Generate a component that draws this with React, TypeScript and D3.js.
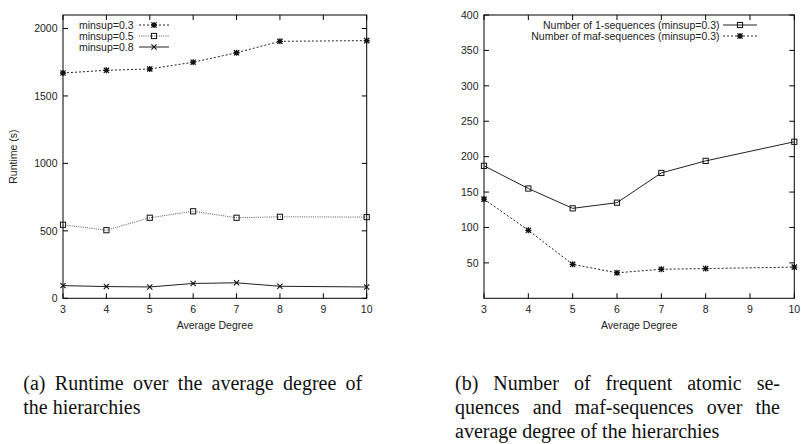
import React, { useLayoutEffect, useRef } from "react";
import * as d3 from "d3";

// Average degree of the hierarchies (x values shared by all series)
const degrees = [3, 4, 5, 6, 7, 8, 10];
const xTicks = [3, 4, 5, 6, 7, 8, 9, 10];

// (a) Runtime in seconds
const runtime03 = [1670, 1690, 1700, 1750, 1820, 1905, 1910];
const runtime05 = [545, 505, 597, 645, 597, 604, 602];
const runtime08 = [94, 87, 84, 110, 115, 89, 84];
const runtimeTicks = [0, 500, 1000, 1500, 2000];

// (b) Number of frequent sequences
const oneSeq = [187, 155, 127, 135, 177, 194, 221];
const mafSeq = [140, 96, 48, 36, 41, 42, 44];
const countTicks = [50, 100, 150, 200, 250, 300, 350, 400];

const SANS = "'Liberation Sans', Arial, Helvetica, sans-serif";
const SERIF = "'Liberation Serif', 'Times New Roman', serif";
const FS = 10.5;
const TICK = 5;

type Marker = "star" | "box" | "cross";

function MarkerShape({ kind, x, y, color }: { kind: Marker; x: number; y: number; color: string }) {
  const s = 2.6;
  if (kind === "box") {
    return <rect x={x - s} y={y - s} width={2 * s} height={2 * s} fill="none" stroke={color} strokeWidth={1} />;
  }
  if (kind === "cross") {
    return (
      <path d={`M${x - s},${y - s}L${x + s},${y + s}M${x - s},${y + s}L${x + s},${y - s}`} stroke={color} strokeWidth={1.1} />
    );
  }
  return (
    <path
      d={`M${x - s},${y - s}L${x + s},${y + s}M${x - s},${y + s}L${x + s},${y - s}M${x - s - 0.4},${y}L${x + s + 0.4},${y}M${x},${y - s - 0.4}L${x},${y + s + 0.4}`}
      stroke={color}
      strokeWidth={1.3}
    />
  );
}

type Series = {
  label: string;
  values: number[];
  marker: Marker;
  dash?: string;
  color: string;
};

type PanelProps = {
  left: number;
  right: number;
  top: number;
  bottom: number;
  yMax: number;
  yTicks: number[];
  series: Series[];
  yLabel?: string;
  legendRight: number;
  legendSample: [number, number];
  legendTop: number;
  legendStep: number;
};

function Panel(p: PanelProps) {
  const x = d3.scaleLinear().domain([3, 10]).range([p.left, p.right]);
  const y = d3.scaleLinear().domain([0, p.yMax]).range([p.bottom, p.top]);
  const line = d3
    .line<number>()
    .x((_, i) => x(degrees[i]))
    .y((v) => y(v));
  const midX = (p.left + p.right) / 2;
  const midY = (p.top + p.bottom) / 2;
  const symX = (p.legendSample[0] + p.legendSample[1]) / 2;

  return (
    <g>
      {/* plot frame */}
      <rect x={p.left} y={p.top} width={p.right - p.left} height={p.bottom - p.top} fill="none" stroke="#000" strokeWidth={1} />

      {/* x ticks, mirrored on top */}
      {xTicks.map((t) => (
        <g key={`x${t}`}>
          <line x1={x(t)} x2={x(t)} y1={p.bottom} y2={p.bottom - TICK} stroke="#000" />
          <line x1={x(t)} x2={x(t)} y1={p.top} y2={p.top + TICK} stroke="#000" />
          <text x={x(t)} y={313} fontSize={FS} fontFamily={SANS} textAnchor="middle" fill="#222">
            {t}
          </text>
        </g>
      ))}

      {/* y ticks, mirrored on right */}
      {p.yTicks.map((t) => (
        <g key={`y${t}`}>
          <line x1={p.left} x2={p.left + TICK} y1={y(t)} y2={y(t)} stroke="#000" />
          <line x1={p.right} x2={p.right - TICK} y1={y(t)} y2={y(t)} stroke="#000" />
          <text x={p.left - 5.5} y={y(t) + 3.8} fontSize={FS} fontFamily={SANS} textAnchor="end" fill="#222">
            {t}
          </text>
        </g>
      ))}

      <text x={midX} y={328.8} fontSize={FS} fontFamily={SANS} textAnchor="middle" fill="#222">
        Average Degree
      </text>
      {p.yLabel && (
        <text
          transform={`translate(17.2,${midY}) rotate(-90)`}
          fontSize={FS}
          fontFamily={SANS}
          textAnchor="middle"
          fill="#222"
        >
          {p.yLabel}
        </text>
      )}

      {/* series */}
      {p.series.map((s) => (
        <g key={s.label}>
          <path d={line(s.values) || ""} fill="none" stroke={s.color} strokeWidth={1} strokeDasharray={s.dash} />
          {s.values.map((v, i) => (
            <MarkerShape key={i} kind={s.marker} x={x(degrees[i])} y={y(v)} color="#111" />
          ))}
        </g>
      ))}

      {/* key */}
      {p.series.map((s, i) => {
        const ly = p.legendTop + i * p.legendStep;
        return (
          <g key={`k${s.label}`}>
            <text x={p.legendRight} y={ly + 3.8} fontSize={FS} fontFamily={SANS} textAnchor="end" fill="#222">
              {s.label}
            </text>
            <line
              x1={p.legendSample[0]}
              x2={p.legendSample[1]}
              y1={ly}
              y2={ly}
              stroke={s.color}
              strokeWidth={1}
              strokeDasharray={s.dash}
            />
            <MarkerShape kind={s.marker} x={symX} y={ly} color="#111" />
          </g>
        );
      })}
    </g>
  );
}

// A caption line stretched to a given width by widening the gaps between words.
function JustifiedLine({ x, y, width, text }: { x: number; y: number; width?: number; text: string }) {
  const ref = useRef<SVGTextElement>(null);
  useLayoutEffect(() => {
    const el = ref.current;
    if (!el || !width) return;
    el.setAttribute("word-spacing", "0");
    const natural = el.getComputedTextLength();
    const gaps = (text.match(/ /g) || []).length;
    if (gaps > 0) el.setAttribute("word-spacing", String((width - natural) / gaps));
  }, [width, text]);
  return (
    <text ref={ref} x={x} y={y} fontSize={20} fontFamily={SERIF} fill="#111">
      {text}
    </text>
  );
}

export default function App() {
  return (
    <svg
      width={801}
      height={444}
      viewBox="0 0 801 444"
      style={{ position: "absolute", left: 0, top: 0, background: "#fff" }}
    >
      <rect width={801} height={444} fill="#fff" />
      <Panel
        left={63}
        right={366.7}
        top={15}
        bottom={298.3}
        yMax={2100}
        yTicks={runtimeTicks}
        yLabel="Runtime (s)"
        legendRight={133.5}
        legendSample={[139, 169]}
        legendTop={25}
        legendStep={11}
        series={[
          { label: "minsup=0.3", values: runtime03, marker: "star", dash: "2,2", color: "#222" },
          { label: "minsup=0.5", values: runtime05, marker: "box", dash: "1,1.2", color: "#555" },
          { label: "minsup=0.8", values: runtime08, marker: "cross", color: "#222" },
        ]}
      />
      <Panel
        left={484}
        right={794.3}
        top={15}
        bottom={298.3}
        yMax={400}
        yTicks={countTicks}
        legendRight={719.5}
        legendSample={[723, 757]}
        legendTop={25}
        legendStep={11}
        series={[
          { label: "Number of 1-sequences (minsup=0.3)", values: oneSeq, marker: "box", color: "#222" },
          { label: "Number of maf-sequences (minsup=0.3)", values: mafSeq, marker: "star", dash: "2,2", color: "#222" },
        ]}
      />

      <JustifiedLine x={23.3} y={389.5} width={339} text="(a) Runtime over the average degree of" />
      <JustifiedLine x={23.3} y={413.5} text="the hierarchies" />

      <JustifiedLine x={455} y={389.5} width={325} text="(b) Number of frequent atomic se-" />
      <JustifiedLine x={455} y={413.5} width={325} text="quences and maf-sequences over the" />
      <JustifiedLine x={455} y={437.5} text="average degree of the hierarchies" />
    </svg>
  );
}
